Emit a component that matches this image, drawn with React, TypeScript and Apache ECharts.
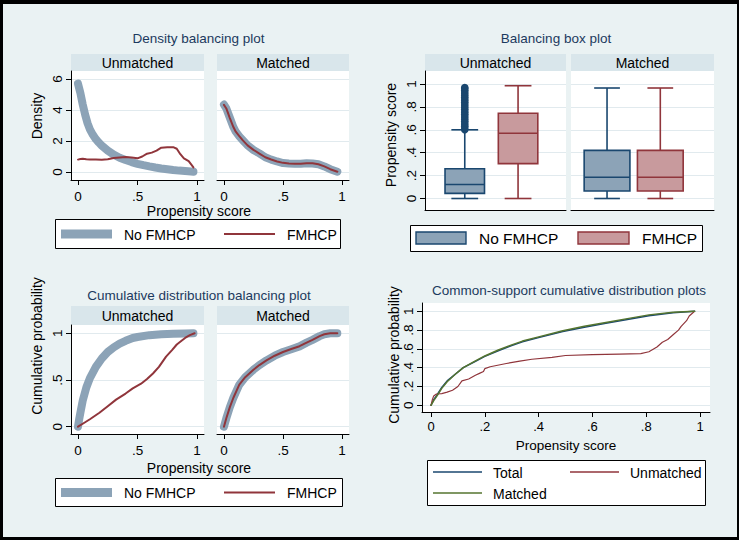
import React, { useEffect, useRef } from 'react';
import * as echarts from 'echarts';

// ---------------- data ----------------
const densityUnmatchedNo: [number, number][] = [
  [0, 5.7], [0.02, 5.1], [0.04, 4.35], [0.06, 3.7], [0.08, 3.15], [0.1, 2.75], [0.125, 2.4], [0.15, 2.12], [0.175, 1.9],
  [0.2, 1.7], [0.25, 1.38], [0.3, 1.12], [0.35, 0.92], [0.4, 0.77], [0.45, 0.64], [0.5, 0.53], [0.55, 0.44],
  [0.6, 0.36], [0.65, 0.29], [0.7, 0.23], [0.75, 0.18], [0.8, 0.13], [0.85, 0.09], [0.9, 0.06], [0.95, 0.03], [0.97, 0.02],
];
const densityUnmatchedYes: [number, number][] = [
  [0, 0.8], [0.02, 0.84], [0.04, 0.86], [0.07, 0.82], [0.1, 0.8], [0.15, 0.81], [0.2, 0.79], [0.25, 0.82],
  [0.3, 0.9], [0.35, 0.93], [0.4, 0.96], [0.45, 0.93], [0.5, 0.88], [0.54, 1.0], [0.58, 1.18], [0.62, 1.25],
  [0.66, 1.38], [0.7, 1.57], [0.75, 1.6], [0.8, 1.6], [0.83, 1.5], [0.86, 1.15], [0.89, 0.88], [0.93, 0.7], [0.97, 0.3],
];
const densityMatchedNo: [number, number][] = [
  [0, 4.35], [0.02, 4.1], [0.05, 3.5], [0.08, 2.9], [0.1, 2.6], [0.13, 2.3], [0.16, 2.05], [0.2, 1.72],
  [0.25, 1.42], [0.3, 1.2], [0.35, 0.95], [0.4, 0.8], [0.45, 0.68], [0.5, 0.58], [0.55, 0.55], [0.6, 0.53],
  [0.65, 0.53], [0.7, 0.57], [0.75, 0.55], [0.8, 0.5], [0.85, 0.36], [0.9, 0.18], [0.96, 0.02],
];
const densityMatchedYes: [number, number][] = [
  [0, 4.33], [0.02, 4.1], [0.05, 3.48], [0.08, 2.9], [0.1, 2.6], [0.13, 2.31], [0.16, 2.04], [0.2, 1.72],
  [0.25, 1.43], [0.3, 1.19], [0.35, 0.95], [0.4, 0.81], [0.45, 0.68], [0.5, 0.59], [0.55, 0.55], [0.6, 0.54],
  [0.65, 0.53], [0.7, 0.57], [0.75, 0.56], [0.8, 0.5], [0.85, 0.36], [0.9, 0.18], [0.96, 0.02],
];

// box plot stats: [lower whisker, q1, median, q3, upper whisker]
const boxUnmatchedNo = [0, 0.045, 0.122, 0.26, 0.6];
const boxUnmatchedYes = [0, 0.305, 0.57, 0.745, 0.985];
const boxMatchedNo = [0, 0.065, 0.185, 0.42, 0.965];
const boxMatchedYes = [0, 0.065, 0.185, 0.42, 0.965];
const outliersUnmatchedNo = [
  0.6, 0.615, 0.63, 0.645, 0.66, 0.675, 0.69, 0.705, 0.72, 0.735, 0.75, 0.765, 0.78, 0.795, 0.81,
  0.825, 0.84, 0.855, 0.87, 0.885, 0.9, 0.915, 0.93, 0.945, 0.96, 0.97,
];

const cdfUnmatchedNo: [number, number][] = [
  [0, 0], [0.01, 0.08], [0.02, 0.15], [0.04, 0.28], [0.07, 0.42], [0.1, 0.52], [0.15, 0.64], [0.2, 0.73],
  [0.25, 0.8], [0.3, 0.85], [0.35, 0.89], [0.4, 0.92], [0.46, 0.95], [0.5, 0.96], [0.6, 0.98], [0.7, 0.99],
  [0.8, 0.995], [0.9, 0.999], [0.97, 1],
];
const cdfUnmatchedYes: [number, number][] = [
  [0, 0], [0.05, 0.04], [0.1, 0.08], [0.18, 0.15], [0.25, 0.22], [0.32, 0.29], [0.4, 0.355], [0.46, 0.41],
  [0.53, 0.46], [0.58, 0.51], [0.63, 0.57], [0.68, 0.64], [0.74, 0.75], [0.79, 0.82], [0.83, 0.88],
  [0.87, 0.92], [0.9, 0.95], [0.94, 0.98], [0.98, 1],
];
const cdfMatchedNo: [number, number][] = [
  [0, 0], [0.02, 0.09], [0.05, 0.21], [0.08, 0.31], [0.13, 0.45], [0.18, 0.53], [0.25, 0.61], [0.3, 0.66],
  [0.36, 0.71], [0.43, 0.76], [0.5, 0.8], [0.57, 0.83], [0.64, 0.86], [0.7, 0.9], [0.75, 0.93], [0.81, 0.97],
  [0.85, 0.99], [0.9, 1], [0.96, 1],
];
const cdfMatchedYes: [number, number][] = [
  [0, 0], [0.02, 0.09], [0.05, 0.21], [0.08, 0.31], [0.13, 0.45], [0.18, 0.53], [0.25, 0.61], [0.3, 0.66],
  [0.36, 0.71], [0.43, 0.76], [0.5, 0.8], [0.57, 0.832], [0.64, 0.862], [0.7, 0.9], [0.75, 0.93], [0.81, 0.97],
  [0.85, 0.99], [0.9, 1], [0.96, 1],
];

const csTotal: [number, number][] = [
  [0, 0], [0.01, 0.06], [0.02, 0.1], [0.04, 0.19], [0.06, 0.26], [0.09, 0.33], [0.12, 0.4], [0.16, 0.46],
  [0.2, 0.52], [0.25, 0.58], [0.3, 0.635], [0.34, 0.675], [0.4, 0.72], [0.49, 0.785], [0.57, 0.83],
  [0.65, 0.872], [0.73, 0.912], [0.81, 0.952], [0.9, 0.984], [0.98, 1],
];
const csMatched: [number, number][] = [
  [0, 0], [0.01, 0.05], [0.02, 0.09], [0.04, 0.18], [0.06, 0.25], [0.09, 0.33], [0.12, 0.4], [0.16, 0.465],
  [0.2, 0.525], [0.25, 0.588], [0.3, 0.643], [0.34, 0.683], [0.4, 0.728], [0.49, 0.793], [0.57, 0.84],
  [0.65, 0.882], [0.73, 0.922], [0.81, 0.962], [0.9, 0.99], [0.98, 1],
];
const csUnmatched: [number, number][] = [
  [0, 0], [0.005, 0.06], [0.01, 0.1], [0.02, 0.12], [0.04, 0.125], [0.06, 0.14], [0.08, 0.16], [0.1, 0.2],
  [0.115, 0.26], [0.14, 0.28], [0.165, 0.32], [0.18, 0.34], [0.195, 0.36], [0.2, 0.39], [0.22, 0.41],
  [0.28, 0.445], [0.33, 0.47], [0.375, 0.49], [0.45, 0.51], [0.5, 0.53], [0.6, 0.54], [0.7, 0.545],
  [0.78, 0.55], [0.81, 0.57], [0.84, 0.62], [0.86, 0.67], [0.88, 0.7], [0.9, 0.75], [0.92, 0.8],
  [0.93, 0.84], [0.95, 0.9], [0.96, 0.95], [0.98, 1],
];

const ticksHalf = [0, 0.5, 1];
const ticksDensity = [0, 2, 4, 6];
const ticksFifth = [0, 0.2, 0.4, 0.6, 0.8, 1];

// ---------------- styling ----------------
const FONT = '"Liberation Sans", Arial, Helvetica, sans-serif';
const BG = '#EAF2F3';
const STRIP = '#D9E6EB';
const TITLE = '#1C3A5E';
const GRIDC = '#E1EAEE';
const NAVY = '#1A476F';
const MAROON = '#90353B';
const GREEN = '#55752F';
const NAVY_L = '#8CA3B7';
const MAROON_L = '#C89A9D';

const fmt = (v: number) => {
  const s = String(Math.round(v * 100) / 100);
  return s.startsWith('0.') ? s.slice(1) : s;
};

function xAx(gridIndex: number, min: number, max: number, ticks: number[] | null, margin = 9, size = 13.5) {
  const has = !!ticks;
  return {
    type: 'value', gridIndex, min, max,
    axisLine: { show: true, onZero: false, lineStyle: { color: '#000', width: 1 } },
    axisTick: { show: has, ...(has ? { customValues: ticks } : {}), length: 5, lineStyle: { color: '#000', width: 1 } },
    axisLabel: { show: has, ...(has ? { customValues: ticks } : {}), formatter: fmt, margin, color: '#000', fontSize: size, fontFamily: FONT },
    splitLine: { show: false },
  };
}
function yAx(gridIndex: number, min: number, max: number, ticks: number[], showAxis: boolean) {
  return {
    type: 'value', gridIndex, min, max,
    axisLine: { show: showAxis, onZero: false, lineStyle: { color: '#000', width: 1 } },
    axisTick: { show: showAxis, customValues: ticks, length: 5, lineStyle: { color: '#000', width: 1 } },
    axisLabel: { show: showAxis, customValues: ticks, rotate: 90, formatter: fmt, margin: 7, color: '#000', fontSize: 13.5, fontFamily: FONT },
    splitLine: { show: true, lineStyle: { color: GRIDC, width: 1 } },
  };
}
function lineS(gi: number, data: [number, number][], color: string, width: number) {
  return {
    type: 'line', xAxisIndex: gi, yAxisIndex: gi, data, showSymbol: false, symbol: 'none', smooth: false,
    silent: true,
    lineStyle: { color, width, cap: 'round', join: 'round' },
  };
}

type BoxEntry = { stats: number[]; pos: number; fill: string; stroke: string };
function boxSeries(gi: number, entries: BoxEntry[], boxW: number, capW: number) {
  return {
    type: 'custom', xAxisIndex: gi, yAxisIndex: gi, silent: true,
    data: entries.map((e) => [e.pos, ...e.stats]),
    encode: { x: 0, y: [1, 2, 3, 4, 5] },
    renderItem: (params: any, api: any) => {
      const e = entries[params.dataIndex];
      const pos = api.value(0);
      const [lo, q1, med, q3, hi] = [1, 2, 3, 4, 5].map((i) => api.value(i));
      const cx = api.coord([pos, 0])[0];
      const hw = api.size([boxW, 0])[0] / 2;
      const hc = api.size([capW, 0])[0] / 2;
      const y = (v: number) => api.coord([pos, v])[1];
      const ln = (x1: number, y1: number, x2: number, y2: number) => ({
        type: 'line', shape: { x1, y1, x2, y2 }, style: { stroke: e.stroke, lineWidth: 1.6 },
      });
      return {
        type: 'group',
        children: [
          ln(cx, y(lo), cx, y(q1)),
          ln(cx, y(q3), cx, y(hi)),
          ln(cx - hc, y(lo), cx + hc, y(lo)),
          ln(cx - hc, y(hi), cx + hc, y(hi)),
          {
            type: 'rect',
            shape: { x: cx - hw, y: y(q3), width: hw * 2, height: y(q1) - y(q3) },
            style: { fill: e.fill, stroke: e.stroke, lineWidth: 1.6 },
          },
          ln(cx - hw, y(med), cx + hw, y(med)),
        ],
      };
    },
  };
}

// ---------------- graphic helpers ----------------
const txt = (text: string, x: number, y: number, size: number, color = '#000', rotation = 0, align = 'center') => ({
  type: 'text', x, y, rotation, silent: true,
  style: { text, fill: color, fontSize: size, fontFamily: FONT, align, verticalAlign: 'middle' },
});
const rect = (x: number, y: number, w: number, h: number, fill: string, stroke?: string, lw = 1) => ({
  type: 'rect', silent: true, shape: { x, y, width: w, height: h },
  style: stroke ? { fill, stroke, lineWidth: lw } : { fill },
});
const gline = (x1: number, y1: number, x2: number, y2: number, stroke: string, lw: number) => ({
  type: 'line', silent: true, shape: { x1, y1, x2, y2 }, style: { stroke, lineWidth: lw, lineCap: 'butt' },
});
const strip = (x: number, y: number, w: number, h: number, label: string) => [
  rect(x, y, w, h, STRIP),
  txt(label, x + w / 2, y + h / 2 + 0.5, 14),
];

function buildOption() {
  const grids = [
    { left: 71, top: 71, width: 133, height: 109 },
    { left: 217, top: 71, width: 132, height: 109 },
    { left: 425, top: 71, width: 141, height: 139 },
    { left: 571, top: 71, width: 143, height: 139 },
    { left: 71, top: 325, width: 133, height: 109 },
    { left: 217, top: 325, width: 132, height: 109 },
    { left: 422, top: 303, width: 288, height: 109 },
  ].map((g) => ({ ...g, show: true, backgroundColor: '#FFFFFF', borderWidth: 0, containLabel: false, outerBoundsMode: 'none' }));

  const pX = [-0.0588, 1.0588];
  const xAxis = [
    xAx(0, pX[0], pX[1], ticksHalf),
    xAx(1, pX[0], pX[1], ticksHalf),
    xAx(2, 0, 1, null),
    xAx(3, 0, 1, null),
    xAx(4, pX[0], pX[1], ticksHalf),
    xAx(5, pX[0], pX[1], ticksHalf),
    xAx(6, -0.0335, 1.0372, ticksFifth, 8, 13),
  ];
  const yAxis = [
    yAx(0, -0.516, 6.516, ticksDensity, true),
    yAx(1, -0.516, 6.516, ticksDensity, false),
    yAx(2, -0.1004, 1.1135, ticksFifth, true),
    yAx(3, -0.1004, 1.1135, ticksFifth, false),
    yAx(4, -0.078, 1.0889, ticksHalf, true),
    yAx(5, -0.078, 1.0889, ticksHalf, false),
    yAx(6, -0.0713, 1.0883, ticksFifth, true),
  ];

  const series: any[] = [
    lineS(0, densityUnmatchedNo, NAVY_L, 8),
    lineS(0, densityUnmatchedYes, MAROON, 2),
    lineS(1, densityMatchedNo, NAVY_L, 8),
    lineS(1, densityMatchedYes, MAROON, 2),
    boxSeries(2, [
      { stats: boxUnmatchedNo, pos: 0.282, fill: NAVY_L, stroke: NAVY },
      { stats: boxUnmatchedYes, pos: 0.66, fill: MAROON_L, stroke: MAROON },
    ], 0.28, 0.19),
    {
      type: 'scatter', xAxisIndex: 2, yAxisIndex: 2, silent: true, symbol: 'circle', symbolSize: 7.5,
      data: outliersUnmatchedNo.map((v) => [0.282, v]),
      itemStyle: { color: NAVY, opacity: 1 },
    },
    boxSeries(3, [
      { stats: boxMatchedNo, pos: 0.252, fill: NAVY_L, stroke: NAVY },
      { stats: boxMatchedYes, pos: 0.6245, fill: MAROON_L, stroke: MAROON },
    ], 0.32, 0.18),
    lineS(4, cdfUnmatchedNo, NAVY_L, 8),
    lineS(4, cdfUnmatchedYes, MAROON, 2),
    lineS(5, cdfMatchedNo, NAVY_L, 8),
    lineS(5, cdfMatchedYes, MAROON, 2),
    lineS(6, csTotal, NAVY, 1.5),
    lineS(6, csUnmatched, MAROON, 1.2),
    lineS(6, csMatched, GREEN, 1.5),
  ];

  const graphic: any[] = [
    // titles
    txt('Density balancing plot', 198.5, 38, 13.5, TITLE),
    txt('Balancing box plot', 556, 38, 13.5, TITLE),
    txt('Cumulative distribution balancing plot', 199, 295, 13.5, TITLE),
    txt('Common-support cumulative distribution plots', 569, 290, 13.5, TITLE),
    // strips
    ...strip(71, 54, 133, 17, 'Unmatched'),
    ...strip(217, 54, 132, 17, 'Matched'),
    ...strip(425, 54, 141, 17, 'Unmatched'),
    ...strip(571, 54, 143, 17, 'Matched'),
    ...strip(71, 306, 133, 19, 'Unmatched'),
    ...strip(217, 306, 132, 19, 'Matched'),
    // axis titles
    txt('Density', 36.5, 116, 14, '#000', Math.PI / 2),
    txt('Propensity score', 199, 211, 14),
    txt('Propensity score', 391, 135, 14, '#000', Math.PI / 2),
    txt('Cumulative probability', 37, 346, 14, '#000', Math.PI / 2),
    txt('Propensity score', 199, 468, 14),
    txt('Cumulative probability', 394, 355, 14, '#000', Math.PI / 2),
    txt('Propensity score', 566, 445, 13.5),
    // legend 1
    rect(55.5, 219.5, 285, 29, '#FFFFFF', '#000', 1),
    gline(61, 234, 112, 234, NAVY_L, 9),
    txt('No FMHCP', 124, 234.5, 14, '#000', 0, 'left'),
    gline(224, 234, 275, 234, MAROON, 2),
    txt('FMHCP', 287, 234.5, 14, '#000', 0, 'left'),
    // legend 2
    rect(410.5, 225.5, 292, 26, '#FFFFFF', '#000', 1),
    rect(416, 232, 50, 12, NAVY_L, NAVY, 1.4),
    txt('No FMHCP', 479, 238.5, 15.5, '#000', 0, 'left'),
    rect(578, 232, 51, 12, MAROON_L, MAROON, 1.4),
    txt('FMHCP', 642, 238.5, 15.5, '#000', 0, 'left'),
    // legend 3
    rect(55.5, 478.5, 287, 28, '#FFFFFF', '#000', 1),
    gline(61, 492.5, 112, 492.5, NAVY_L, 9),
    txt('No FMHCP', 124, 493, 14, '#000', 0, 'left'),
    gline(224, 492.5, 275, 492.5, MAROON, 2),
    txt('FMHCP', 287, 493, 14, '#000', 0, 'left'),
    // legend 4
    rect(427.5, 460.5, 278, 45, '#FFFFFF', '#000', 1),
    gline(433, 472, 482, 472, NAVY, 1.5),
    txt('Total', 493, 472.5, 14, '#000', 0, 'left'),
    gline(570, 472, 619, 472, MAROON, 1.5),
    txt('Unmatched', 630, 472.5, 14, '#000', 0, 'left'),
    gline(433, 493, 482, 493, GREEN, 1.5),
    txt('Matched', 493, 493.5, 14, '#000', 0, 'left'),
    // outer frame
    rect(0, 0, 739, 4, '#000'),
    rect(0, 0, 3, 540, '#000'),
    rect(737, 0, 2, 540, '#000'),
    rect(0, 537, 739, 3, '#000'),
  ];

  return {
    animation: false,
    backgroundColor: BG,
    textStyle: { fontFamily: FONT },
    grid: grids,
    xAxis,
    yAxis,
    series,
    graphic,
  };
}

export default function App() {
  const ref = useRef<HTMLDivElement>(null);
  useEffect(() => {
    if (!ref.current) return;
    const chart = echarts.init(ref.current, null, { renderer: 'svg' });
    chart.setOption(buildOption() as any);
    return () => chart.dispose();
  }, []);
  return <div ref={ref} style={{ position: 'absolute', left: 0, top: 0, width: 739, height: 540 }} />;
}
